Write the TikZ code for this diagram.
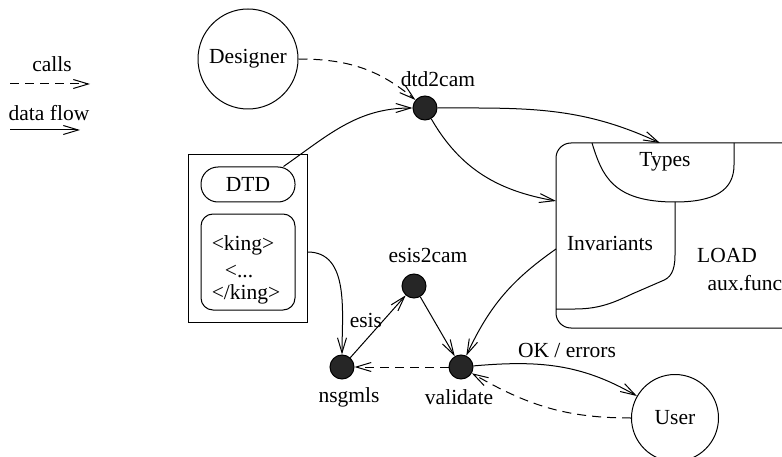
\documentclass[tikz,border=0pt]{standalone}
\usepackage{fontspec}
\setmainfont{Liberation Serif}
\usetikzlibrary{arrows.meta}

\begin{document}
\begin{tikzpicture}[x=1pt, y=1pt, line width=1pt,
    font=\fontsize{21.5}{25}\selectfont,
    lbl/.style={inner sep=0pt},
    dot/.style={circle, draw, fill=black!85, minimum size=24pt, inner sep=0pt},
    person/.style={circle, draw, inner sep=0pt},
    flow/.style={-{Straight Barb[length=15pt,width=9pt]}},
    call/.style={flow, dash pattern=on 9pt off 6pt}]
  % \draw[red] (0,0) rectangle (782,456);
  \clip (0,0) rectangle (782,456);

  % legend
  \node[lbl] (callslbl) at (52,392) {calls};
  \node[lbl] (flowlbl) at (49,343) {data flow};
  \coordinate (calla) at (10,372);
  \coordinate (callb) at (90,372);
  \coordinate (flowa) at (10,326);
  \coordinate (flowb) at (80,326);
  \draw[call] (calla) -- (callb);
  \draw[flow] (flowa) -- (flowb);

  % actors and programs
  \node[person, minimum size=100pt] (designer) at (248,397) {Designer};
  \node[person, minimum size=87pt] (user) at (675,38) {User};
  \node[dot] (dtd2cam) at (425,348) {};
  \node[lbl] (dtd2camlbl) at (438,377) {dtd2cam};
  \node[dot] (esis2cam) at (414,170) {};
  \node[lbl] (esis2camlbl) at (428,201) {esis2cam};
  \node[dot] (nsgmls) at (342,89) {};
  \node[lbl] (nsgmlslbl) at (349,59) {nsgmls};
  \node[dot] (validate) at (461,89) {};
  \node[lbl] (validatelbl) at (459,59) {validate};

  % documents
  \node[draw, minimum width=119pt, minimum height=167pt] (docs) at (247.5,217.5) {};
  \node[draw, rounded corners=17pt, minimum width=94pt, minimum height=35pt] (dtd) at (248,271.5) {DTD};
  \node[draw, rounded corners=12pt, minimum width=94pt, minimum height=96pt] (inst) at (248,194) {};
  \node[lbl] (kingopen) at (243,211) {<king>};
  \node[lbl] (kingdots) at (239,185) {<...};
  \node[lbl] (kingclose) at (246,162) {</king>};

  % LOAD
  \node[draw, rounded corners=15pt, minimum width=244pt, minimum height=185pt] (load) at (678,220.5) {};
  \draw (592,313) .. controls (602,281) and (612,254) .. (675,254)
        .. controls (715,254) and (734,266) .. (734,291) -- (734,313);
  \draw (675,254) -- (675,201) .. controls (675,184) and (670,178) .. (662,175)
        -- (632,162) .. controls (615,154) and (600,147) .. (575,147) -- (556,147);
  \node[lbl] (types) at (665,294) {Types};
  \node[lbl] (invariants) at (610,213) {Invariants};
  \node[lbl] (loadlbl) at (727,201) {LOAD};
  \node[lbl, anchor=west] (aux) at (707,173) {aux.func};
  \coordinate (typesin) at (660,313);
  \coordinate (invin) at (556,255);
  \coordinate (invout) at (556,207);

  % connectors
  \draw[call] (designer) to[out=0,in=140] (dtd2cam);
  \draw[flow] ([xshift=-12pt]dtd.north east) to[out=35,in=180] (dtd2cam);
  \draw[flow] (dtd2cam) to[out=0,in=155] (typesin);
  \draw[flow] (dtd2cam) to[out=-60,in=170] (invin);
  \draw[flow] ([yshift=-13.5pt]docs.east) to[out=0,in=90] (nsgmls);
  \draw[flow] (nsgmls) -- node[lbl, pos=0.6, left=1pt] (esislbl) {esis} (esis2cam);
  \draw[flow] (esis2cam) -- (validate);
  \draw[call] (validate) -- (nsgmls);
  \draw[flow] (invout) to[out=215,in=65] (validate);
  \draw[flow] (validate) to[out=5,in=150] (user);
  \node[lbl] (oklbl) at (567,106) {OK / errors};
  \draw[call] (user) to[out=180,in=-30] (validate);

\end{tikzpicture}
\end{document}
